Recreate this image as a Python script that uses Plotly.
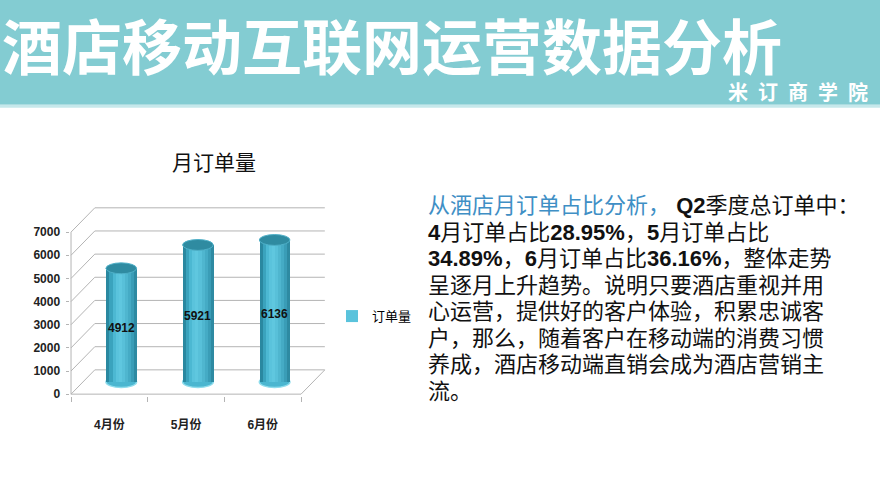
import plotly.graph_objects as go

# data
months = ["4月份", "5月份", "6月份"]
orders = [4912, 5921, 6136]
y_ticks = [0, 1000, 2000, 3000, 4000, 5000, 6000, 7000]

page_title = "酒店移动互联网运营数据分析"
brand = "米订商学院"
chart_title = "月订单量"
series_name = "订单量"
text_lines = [
    "<span style='color:#3F8FC5'>从酒店月订单占比分析，</span> <b>Q2</b>季度总订单中：",
    "<b>4</b>月订单占比<b>28.95%</b>，<b>5</b>月订单占比",
    "<b>34.89%</b>，<b>6</b>月订单占比<b>36.16%</b>，整体走势",
    "呈逐月上升趋势。说明只要酒店重视并用",
    "心运营，提供好的客户体验，积累忠诚客",
    "户，那么，随着客户在移动端的消费习惯",
    "养成，酒店移动端直销会成为酒店营销主",
    "流。",
]

# pseudo 3d look
dx = 0.31      # depth offset in category units
dy = 1050      # depth offset in value units
cyl_w = 0.40
ell_h = 235
base = dy / 2
grid_col = "#b4b4b4"
body_cols = ["#2a88a0", "#3aa3bd", "#4cb8d2", "#5ac3dc", "#5fc7df",
             "#58c0d9", "#4fb6cf", "#45abc5", "#3a9db7", "#2e8aa2"]

fig = go.Figure()

n = len(body_cols)
for k, c in enumerate(body_cols):
    fig.add_trace(go.Bar(
        x=months, y=orders, base=[base] * len(orders),
        width=cyl_w / n + (0.006 if k < n - 1 else 0),
        offset=dx / 2 - cyl_w / 2 + k * cyl_w / n,
        marker=dict(color=c, line=dict(width=0)),
        name=series_name, showlegend=(k == 3), hoverinfo="skip",
    ))

shapes = []
# back wall grid + side diagonals
for v in y_ticks:
    shapes.append(dict(type="line", x0=-0.5, y0=v, x1=-0.5 + dx, y1=v + dy,
                       line=dict(color=grid_col, width=1), layer="below"))
    shapes.append(dict(type="line", x0=-0.5 + dx, y0=v + dy, x1=2.5 + dx, y1=v + dy,
                       line=dict(color=grid_col, width=1), layer="below"))
# floor front edge + right diagonal, front axis
shapes.append(dict(type="line", x0=-0.5, y0=0, x1=2.5, y1=0,
                   line=dict(color=grid_col, width=1), layer="below"))
shapes.append(dict(type="line", x0=2.5, y0=0, x1=2.5 + dx, y1=dy,
                   line=dict(color=grid_col, width=1), layer="below"))
shapes.append(dict(type="line", x0=-0.5, y0=0, x1=-0.5, y1=y_ticks[-1],
                   line=dict(color=grid_col, width=1), layer="below"))

# cylinder ends
for i, v in enumerate(orders):
    cx = i + dx / 2
    shapes.append(dict(type="circle", x0=cx - cyl_w / 2, x1=cx + cyl_w / 2,
                       y0=base - ell_h, y1=base + ell_h,
                       fillcolor="#4bb6d0", line=dict(color="#8edcec", width=1.5),
                       layer="below"))
    shapes.append(dict(type="circle", x0=cx - cyl_w / 2, x1=cx + cyl_w / 2,
                       y0=base + v - ell_h, y1=base + v + ell_h,
                       fillcolor="#2f8ba1", line=dict(color="#4fb0c8", width=1),
                       layer="above"))

# header band
shapes.append(dict(type="rect", xref="paper", yref="paper", x0=0, x1=1,
                   y0=1 - 106 / 495, y1=1, fillcolor="#83ccd2", line=dict(width=0),
                   layer="below"))
shapes.append(dict(type="rect", xref="paper", yref="paper", x0=0, x1=1,
                   y0=1 - 109 / 495, y1=1 - 106 / 495, fillcolor="#c6e8eb",
                   line=dict(width=0), layer="below"))

annotations = []
for i, v in enumerate(orders):
    annotations.append(dict(x=i + dx / 2, y=base + v / 2 - 120, text=f"<b>{v}</b>",
                            showarrow=False,
                            font=dict(family="Liberation Sans Narrow, Liberation Sans",
                                      size=12, color="#111")))

annotations.append(dict(xref="paper", yref="paper", x=0, y=1 - 44 / 495,
                        xanchor="left", yanchor="middle", showarrow=False,
                        text=f"<b>{page_title}</b>",
                        font=dict(family="Noto Sans CJK SC", size=60, color="white")))
annotations.append(dict(xref="paper", yref="paper", x=870 / 880, y=1 - 93 / 495,
                        xanchor="right", yanchor="middle", showarrow=False,
                        text="<b>" + "\u2002".join(brand) + "</b>",
                        font=dict(family="Noto Sans CJK SC", size=20, color="white")))
annotations.append(dict(xref="paper", yref="paper", x=214 / 880, y=1 - 163 / 495,
                        xanchor="center", yanchor="middle", showarrow=False,
                        text=chart_title,
                        font=dict(family="Noto Sans CJK SC", size=21, color="#111")))

line_y0 = 208
for j, t in enumerate(text_lines):
    annotations.append(dict(xref="paper", yref="paper", x=426 / 880,
                            y=1 - (line_y0 + j * 26.9) / 495,
                            xanchor="left", yanchor="middle", showarrow=False,
                            text=t,
                            font=dict(family="Liberation Sans, Noto Sans CJK SC",
                                      size=22, color="#111")))

fig.update_layout(
    width=880, height=495,
    margin=dict(l=0, r=0, t=0, b=0),
    paper_bgcolor="white", plot_bgcolor="white",
    barmode="overlay", bargap=0,
    shapes=shapes, annotations=annotations,
    showlegend=True,
    legend=dict(x=332 / 880, y=1 - 320 / 495, xanchor="left", yanchor="middle",
                font=dict(family="Noto Sans CJK SC", size=13, color="#000"),
                bgcolor="rgba(0,0,0,0)"),
    xaxis=dict(type="category", domain=[69.5 / 880, 325.6 / 880],
               range=[-0.52, 2.5 + dx + 0.01], showgrid=False, zeroline=False,
               showline=False, ticks="outside", ticklen=5, tickcolor=grid_col,
               tickson="boundaries", ticklabelstandoff=20,
               tickfont=dict(family="Liberation Sans, Noto Sans CJK SC", size=12,
                             color="#222", weight="bold")),
    yaxis=dict(domain=[(495 - 400.4) / 495, (495 - 209.2) / 495],
               range=[-60, 8100], tickvals=y_ticks, showgrid=False,
               zeroline=False, showline=False, ticks="outside", ticklen=3,
               tickcolor=grid_col, ticklabelstandoff=3,
               tickfont=dict(family="Liberation Sans", size=12, color="#222",
                             weight="bold")),
)

# page body has a default 8px margin; drop it so the figure sits at the window corner
fig.write_html("out.html", config={"displayModeBar": False},
               post_script="document.body.style.margin='0px';")
